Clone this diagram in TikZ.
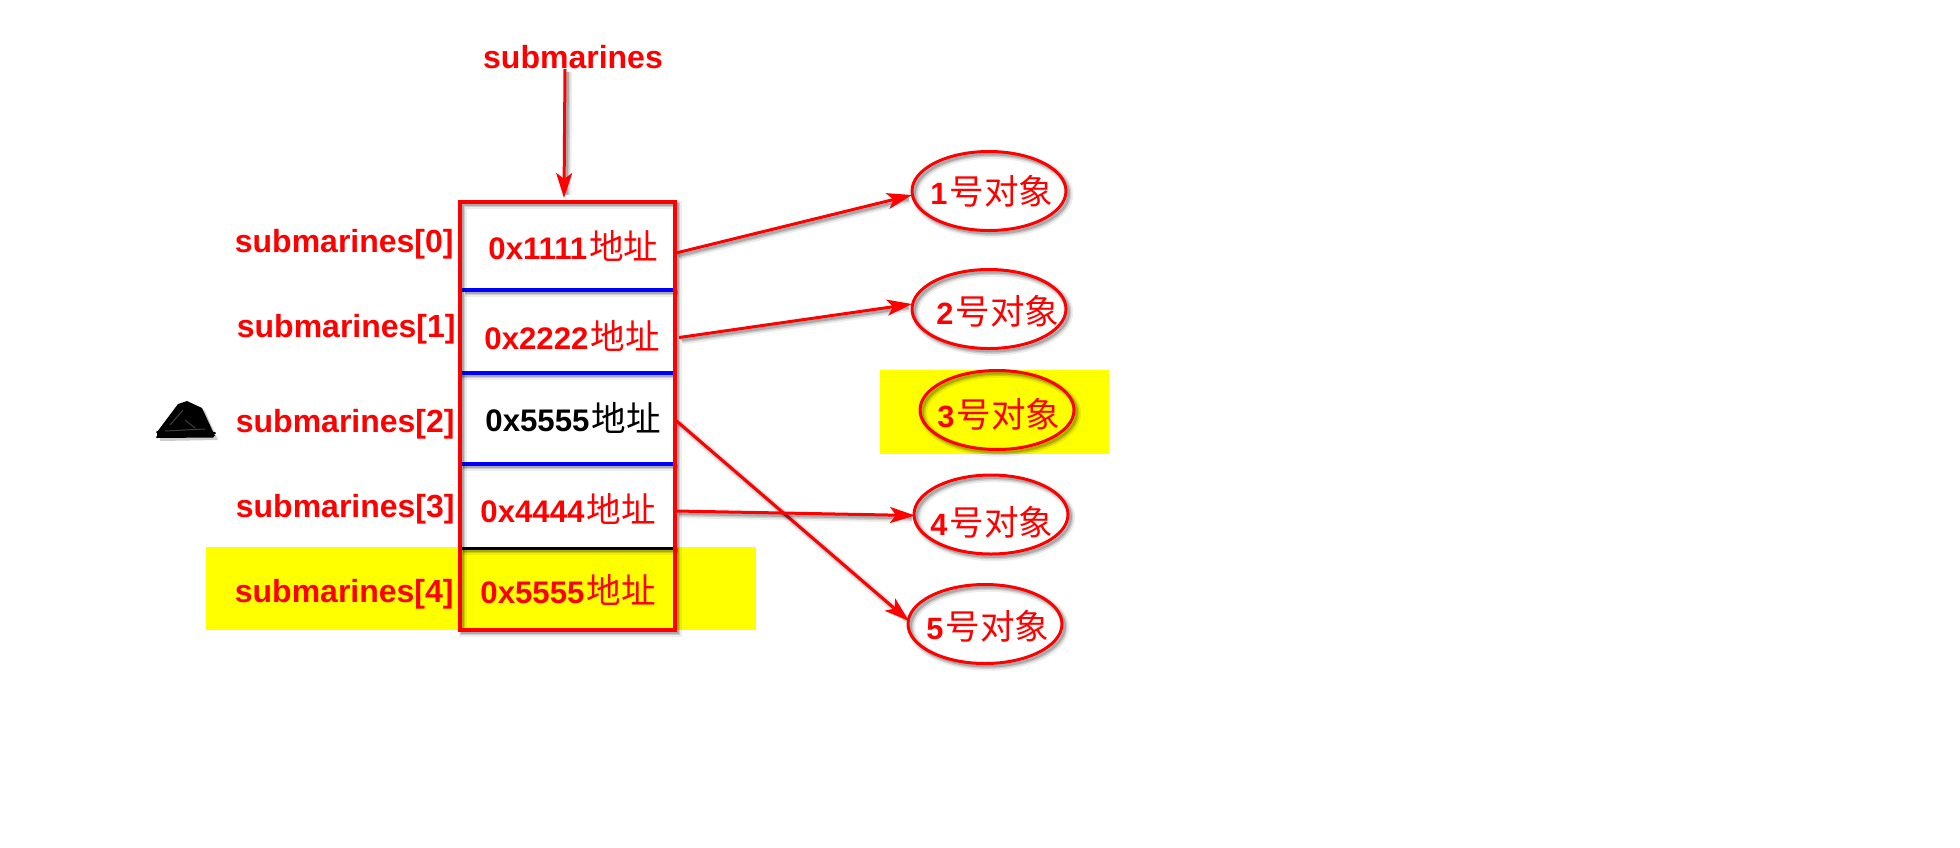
\documentclass[tikz,border=0pt]{standalone}
\usepackage{fontspec}
\setmainfont{Liberation Sans}
\newfontfamily\cjk{Noto Sans CJK SC}
\usetikzlibrary{arrows.meta,shapes.geometric}
\definecolor{hl}{RGB}{255,255,0}
\tikzset{
  soft/.style={
    preaction={draw=black,draw opacity=.07,line width=4pt,transform canvas={shift={(1.6pt,-1.6pt)}}},
    preaction={draw=black,draw opacity=.12,line width=2.6pt,transform canvas={shift={(1.4pt,-1.4pt)}}},
    preaction={draw=black,draw opacity=.18,line width=1.4pt,transform canvas={shift={(1.3pt,-1.3pt)}}}},
  softline/.style={
    preaction={arrows=-,shorten >=3pt,draw=black,draw opacity=.07,line width=4pt,transform canvas={shift={(1.6pt,-1.6pt)}}},
    preaction={arrows=-,shorten >=3pt,draw=black,draw opacity=.12,line width=2.6pt,transform canvas={shift={(1.4pt,-1.4pt)}}},
    preaction={arrows=-,shorten >=3pt,draw=black,draw opacity=.18,line width=1.4pt,transform canvas={shift={(1.3pt,-1.3pt)}}}},
  hlbox/.style={fill=hl,draw=none,inner sep=0},
  cell/.style={minimum width=107.5pt,inner sep=0,outer sep=0,draw=none},
  lbl/.style={text=red,font=\fontsize{16}{18}\selectfont\bfseries,inner sep=0,anchor=east},
  addr/.style={text=red,font=\fontsize{15.6}{18}\selectfont\bfseries,inner sep=0,anchor=west},
  obj/.style={ellipse,draw=red,line width=1.5pt,minimum width=77pt,minimum height=39.5pt,inner sep=0,outer sep=0,soft},
  objt/.style={text=red,font=\fontsize{15.4}{18}\selectfont\bfseries,inner sep=0,anchor=west},
  conn/.style={draw=red,line width=1.5pt,softline,-{Stealth[length=12.5pt,width=8pt,inset=3pt]}},
  divl/.style={draw=blue,line width=1.6pt,soft},
}
\newcommand{\zh}[1]{{\hspace{1pt}\cjk\mdseries\fontsize{17.3}{18}\selectfont #1}}
\begin{document}
\begin{tikzpicture}[x=0.5pt,y=-0.5pt]
\useasboundingbox (0,0) rectangle (1960,847);
% highlights
\node[hlbox,minimum width=114.5pt,minimum height=42pt] (hl3) at (994.5,412) {};
\node[hlbox,minimum width=275pt,minimum height=41.5pt] (hl4) at (481,588.5) {};
% cells
\node[cell,minimum height=44pt] (c0) at (567.5,246) {};
\node[cell,minimum height=41.5pt] (c1) at (567.5,331.5) {};
\node[cell,minimum height=45.5pt] (c2) at (567.5,418.5) {};
\node[cell,minimum height=42pt] (c3) at (567.5,506) {};
\node[cell,minimum height=41pt] (c4) at (567.5,589) {};
% dividers
\draw[divl] ([xshift=1pt]c0.south west) -- (c0.south east);
\draw[divl] ([xshift=-1pt]c1.south west) -- ([xshift=-1pt]c1.south east);
\draw[divl] (c2.south west) -- (c2.south east);
\draw[draw=black,line width=1.5pt,soft] (c3.south west) -- (c3.south east);
% outer box
\draw[draw=red,line width=1.7pt,soft] (c0.north west) rectangle (c4.south east);
% top label
\node[text=red,font=\fontsize{16}{18}\selectfont\bfseries,inner sep=0] (top) at (573,57) {submarines};
% index labels
\node[lbl] (l0) at (454,244) {submarines[0]};
\node[lbl] (l1) at (456,329) {submarines[1]};
\node[lbl] (l2) at (455,424) {submarines[2]};
\node[lbl] (l3) at (455,509) {submarines[3]};
\node[lbl] (l4) at (454,594) {submarines[4]};
% addresses
\node[addr] (a0) at (488,246) {0x1111\zh{地址}};
\node[addr] (a1) at (484,336) {0x2222\zh{地址}};
\node[addr,text=black] (a2) at (485,418) {0x5555\zh{地址}};
\node[addr] (a3) at (480,509) {0x4444\zh{地址}};
\node[addr] (a4) at (480,590) {0x5555\zh{地址}};
% objects
\node[obj] (e1) at (989,191) {};
\node[obj] (e2) at (989,309) {};
\node[obj] (e3) at (997,410) {};
\node[obj] (e4) at (991,514.5) {};
\node[obj] (e5) at (985,624) {};
\node[objt] (t1) at (930,191) {1\zh{号对象}};
\node[objt] (t2) at (936,311) {2\zh{号对象}};
\node[objt] (t3) at (937,414) {3\zh{号对象}};
\node[objt] (t4) at (930,522) {4\zh{号对象}};
\node[objt] (t5) at (926,626) {5\zh{号对象}};
% connectors
\draw[conn] ([xshift=-4pt]top.south) -- ([xshift=-1.75pt,yshift=2pt]c0.north);
\draw[conn] ([xshift=.5pt,yshift=-3.5pt]c0.east) -- ([yshift=-2pt]e1.west);
\draw[conn] ([xshift=2pt,yshift=-3pt]c1.east) -- ([yshift=2.5pt]e2.west);
\draw[conn] ([xshift=.5pt,yshift=-1pt]c2.east) -- ([xshift=.5pt,yshift=1.5pt]e5.west);
\draw[conn] ([xshift=.5pt,yshift=-2.5pt]c3.east) -- ([xshift=.5pt,yshift=-0.5pt]e4.west);
% scribble
\path[fill=black,opacity=.2,transform canvas={shift={(1.5pt,-1.5pt)}}] (187,401) -- (178,404) -- (157,432) -- (157,438) -- (215,437) -- (202,408) -- cycle;
\path[fill=black] (187,401) -- (178,404) -- (157,432) -- (157,437) -- (215,436) -- (202,408) -- cycle;
\draw[black,line width=1pt,line cap=round] (157,437) -- (213,436.5) (157,432) -- (215,433);
\draw[white,opacity=.25,line width=.5pt] (170,425) -- (183,410) (185,420) -- (195,428) (165,431) -- (205,429);
\end{tikzpicture}
\end{document}
